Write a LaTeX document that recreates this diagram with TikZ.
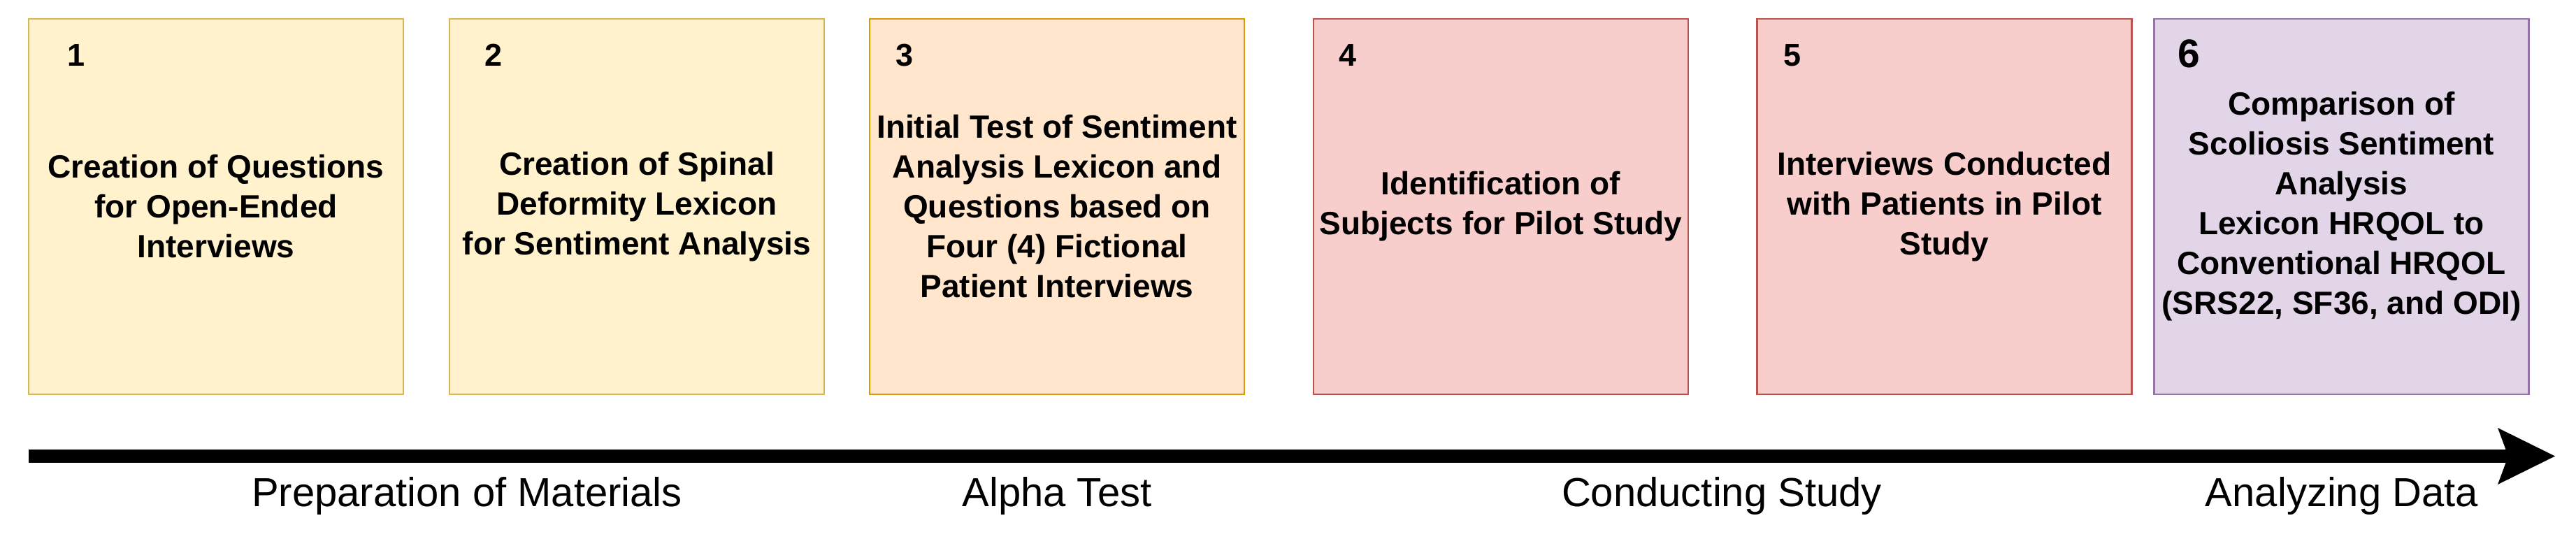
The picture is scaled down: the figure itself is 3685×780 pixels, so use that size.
\documentclass[tikz,border=0pt]{standalone}
\usepackage{fontspec}
\setmainfont{Liberation Sans}
\usetikzlibrary{arrows.meta}
\definecolor{yfill}{HTML}{FFF2CC}\definecolor{ydraw}{HTML}{D6B656}
\definecolor{ofill}{HTML}{FFE6CC}\definecolor{odraw}{HTML}{D79B00}
\definecolor{rfill}{HTML}{F8CECC}\definecolor{rdraw}{HTML}{B85450}
\definecolor{pfill}{HTML}{E1D5E7}\definecolor{pdraw}{HTML}{9673A6}
\tikzset{
  stagebox/.style={rectangle, line width=2.7pt, minimum width=536pt, minimum height=537pt,
    inner sep=0pt, align=center, font=\fontsize{46}{57}\selectfont\bfseries},
  numlabel/.style={anchor=base west, inner sep=0pt, font=\fontsize{45}{54}\selectfont\bfseries},
  phaselabel/.style={anchor=base, inner sep=0pt, font=\fontsize{58}{68}\selectfont},
  timeline/.style={line width=19.5pt, -{Stealth[length=82pt,width=81pt,inset=15pt,line width=0pt]}}
}
\begin{document}
\begin{tikzpicture}[x=1pt,y=-1pt]
\useasboundingbox (0,0) rectangle (3685,780);
\node[stagebox, fill=yfill, draw=ydraw] (b1) at (309,295.5) {Creation of Questions\\for Open-Ended\\Interviews};
\node[stagebox, fill=yfill, draw=ydraw] (b2) at (911,295.5) {Creation of Spinal\\Deformity Lexicon\\for Sentiment Analysis};
\node[stagebox, fill=ofill, draw=odraw] (b3) at (1512,295.5) {Initial Test of Sentiment\\Analysis Lexicon and\\Questions based on\\Four (4) Fictional\\Patient Interviews};
\node[stagebox, fill=rfill, draw=rdraw] (b4) at (2147,295.5) {Identification of\\Subjects for Pilot Study};
\node[stagebox, fill=rfill, draw=rdraw] (b5) at (2781.5,295.5) {Interviews Conducted\\with Patients in Pilot\\Study};
\node[stagebox, fill=pfill, draw=pdraw] (b6) at (3349.5,295.5) {Comparison of\\Scoliosis Sentiment\\Analysis\\Lexicon HRQOL to\\Conventional HRQOL\\(SRS22, SF36, and ODI)};
\node[numlabel] (n1) at (96,94) {1};
\node[numlabel] (n2) at (693,94) {2};
\node[numlabel] (n3) at (1281,94) {3};
\node[numlabel] (n4) at (1915,94) {4};
\node[numlabel] (n5) at (2551,94) {5};
\node[numlabel, font=\fontsize{57}{66}\selectfont\bfseries] (n6) at (3115,96) {6};
\coordinate (tstart) at (41,652.5);
\coordinate (tend) at (3655,652.5);
\draw[timeline] (tstart) -- (tend);
\node[phaselabel] (p1) at (668,724) {Preparation of Materials};
\node[phaselabel] (p2) at (1512,724) {Alpha Test};
\node[phaselabel] (p3) at (2463,724) {Conducting Study};
\node[phaselabel] (p4) at (3350,724) {Analyzing Data};
\end{tikzpicture}
\end{document}
